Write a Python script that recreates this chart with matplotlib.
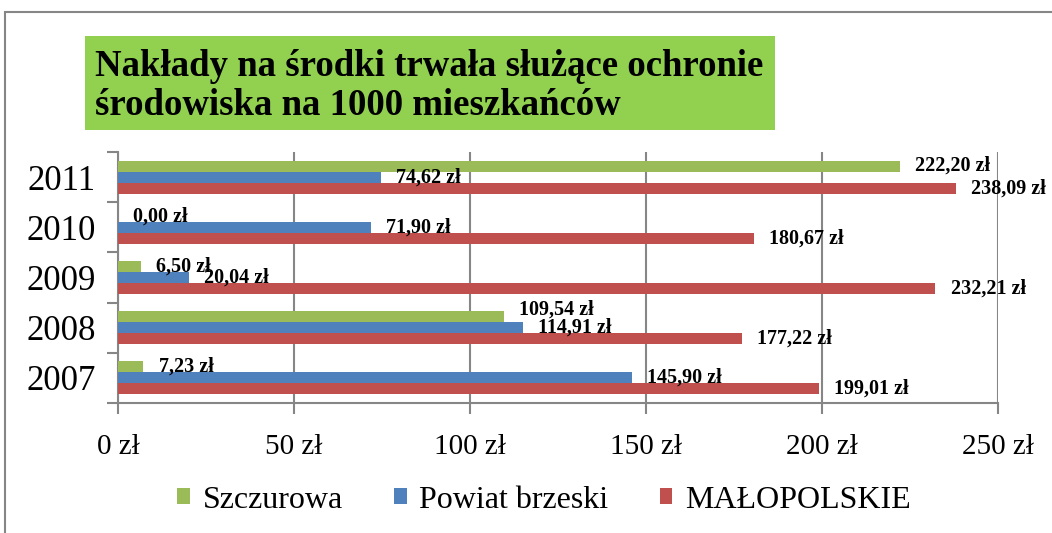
import matplotlib.pyplot as plt
import matplotlib.patches as patches
import numpy as np

years = ["2007", "2008", "2009", "2010", "2011"]
szczurowa = [7.23, 109.54, 6.50, 0.00, 222.20]
powiat = [145.90, 114.91, 20.04, 71.90, 74.62]
malopolskie = [199.01, 177.22, 232.21, 180.67, 238.09]
series_names = ["Szczurowa", "Powiat brzeski", "MAŁOPOLSKIE"]
colors = ["#9BBB59", "#4F81BD", "#C0504D"]
xticks = [0, 50, 100, 150, 200, 250]

plt.rcParams['font.family'] = ['Liberation Serif', 'DejaVu Serif']

fig = plt.figure(figsize=(10.52, 5.33), dpi=100)
ax = fig.add_axes([0.1122, 0.2439, 0.8365, 0.4709])

# outer frame of the chart area
fig.patches.append(patches.Rectangle((5/1052, -0.01), 1.1, 1 - 12/533 + 0.01,
                                     transform=fig.transFigure, fill=False,
                                     edgecolor="#868686", linewidth=1.5))

y = np.arange(len(years))
h = 0.22
data = [szczurowa, powiat, malopolskie]
offs = [h, 0, -h]
for k, (vals, off, col, name) in enumerate(zip(data, offs, colors, series_names)):
    ax.barh(y + off, vals, height=h, color=col, label=name, zorder=3)
    for yi, v in zip(y, vals):
        lbl = ("%.2f zł" % v).replace(".", ",")
        dy = 0
        # excel pushed this one up a bit so it doesn't sit on the blue label
        if k == 0 and yi == 1:
            dy = 5
        ax.annotate(lbl, (v, yi + off), xytext=(11, dy), textcoords="offset points",
                    va="center", ha="left", fontsize=14.5, fontweight="bold",
                    zorder=4, annotation_clip=False)

ax.set_xlim(0, 250)
ax.set_ylim(-0.5, len(years) - 0.5)
ax.set_xticks(xticks)
ax.set_xticklabels(["%d zł" % t for t in xticks], fontsize=21)
ax.set_yticks(y)
ax.set_yticklabels(years, fontsize=25)
ax.set_yticks(np.arange(len(years) + 1) - 0.5, minor=True)
ax.tick_params(axis="y", which="major", length=0, pad=16)
ax.tick_params(axis="y", which="minor", length=8, color="#868686", width=1.5)
ax.tick_params(axis="x", length=8, color="#868686", width=1.5, pad=14)
ax.grid(axis="x", color="#868686", linewidth=1.5, zorder=0)
for s in ["top", "right"]:
    ax.spines[s].set_visible(False)
for s in ["left", "bottom"]:
    ax.spines[s].set_color("#868686")
    ax.spines[s].set_linewidth(1.5)

# title in green box
fig.patches.append(patches.Rectangle((85/1052, 1 - 130/533), 690/1052, 94/533,
                                     transform=fig.transFigure, facecolor="#92D050",
                                     edgecolor="none"))
fig.text(95/1052, 1 - 86/533, "Nakłady na środki trwała służące ochronie\nśrodowiska na 1000 mieszkańców",
         fontsize=26.5, fontweight="bold", va="center", ha="left", linespacing=1.15)

ax.legend(loc="center", bbox_to_anchor=(0.517, 1 - 500/533), bbox_transform=fig.transFigure,
          ncol=3, frameon=False, fontsize=23, handlelength=0.4, handleheight=0.4,
          handletextpad=0.4, columnspacing=1.6)

fig.savefig("out.png", dpi=100)
